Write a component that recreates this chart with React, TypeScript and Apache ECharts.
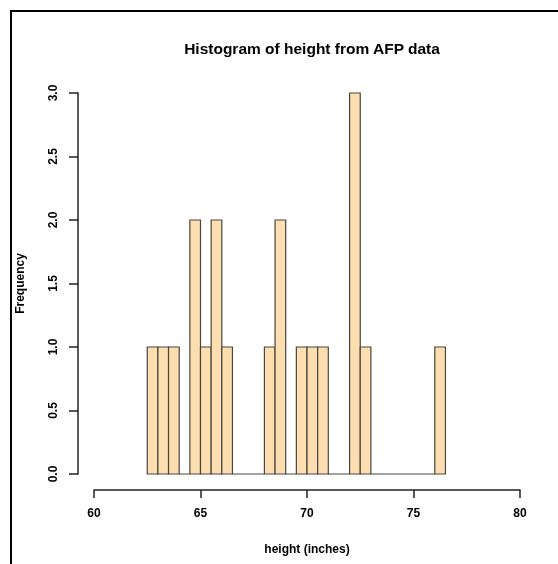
import React, { useEffect, useRef } from "react";
import * as echarts from "echarts";

// Histogram of heights (inches), 0.5-inch bins
const binStarts = [
  62.5, 63, 63.5, 64, 64.5, 65, 65.5, 66, 66.5, 67, 67.5, 68, 68.5, 69,
  69.5, 70, 70.5, 71, 71.5, 72, 72.5, 73, 73.5, 74, 74.5, 75, 75.5, 76,
];
const counts = [
  1, 1, 1, 0, 2, 1, 2, 1, 0, 0, 0, 1, 2, 0,
  1, 1, 1, 0, 0, 3, 1, 0, 0, 0, 0, 0, 0, 1,
];
const binWidth = 0.5;
const xTicks = [60, 65, 70, 75, 80];
const yTicks = [0, 0.5, 1, 1.5, 2, 2.5, 3];

const titleText = "Histogram of height from AFP data";
const xLabel = "height (inches)";
const yLabel = "Frequency";

const FONT = "'Liberation Sans', Arial, sans-serif";
const AXIS_COLOR = "#222";

export default function App() {
  const ref = useRef<HTMLDivElement>(null);

  useEffect(() => {
    if (!ref.current) return;
    const chart = echarts.init(ref.current, undefined, { renderer: "svg" });
    const data = binStarts.map((s, i) => [s, s + binWidth, counts[i]]);

    chart.setOption({
      animation: false,
      title: {
        text: titleText,
        left: 307,
        top: 35,
        textAlign: "center",
        textStyle: { fontSize: 15.5, fontWeight: "bold", color: "#000", fontFamily: FONT },
      },
      grid: { left: 94, right: 38, top: 93, bottom: 90 },
      xAxis: {
        type: "value",
        min: xTicks[0],
        max: xTicks[xTicks.length - 1],
        interval: 5,
        offset: 16,
        name: xLabel,
        nameLocation: "middle",
        nameGap: 53,
        nameMoveOverlap: false,
        nameTextStyle: { fontSize: 12, fontWeight: "bold", color: "#000", fontFamily: FONT },
        axisLine: { show: true, onZero: false, lineStyle: { color: AXIS_COLOR, width: 1.5 } },
        axisTick: { show: true, length: 8, inside: false, lineStyle: { color: AXIS_COLOR, width: 1.5 } },
        axisLabel: { margin: 17, fontSize: 12, fontWeight: "bold", color: "#000", fontFamily: FONT },
        splitLine: { show: false },
      },
      yAxis: {
        type: "value",
        min: yTicks[0],
        max: yTicks[yTicks.length - 1],
        interval: 0.5,
        offset: 16,
        name: yLabel,
        nameLocation: "middle",
        nameGap: 52,
        nameRotate: 90,
        nameMoveOverlap: false,
        nameTextStyle: { fontSize: 12, fontWeight: "bold", color: "#000", fontFamily: FONT },
        axisLine: { show: true, onZero: false, lineStyle: { color: AXIS_COLOR, width: 1.5 } },
        axisTick: { show: true, length: 9, inside: false, lineStyle: { color: AXIS_COLOR, width: 1.5 } },
        axisLabel: {
          rotate: 90,
          margin: 19,
          fontSize: 12,
          fontWeight: "bold",
          color: "#000",
          fontFamily: FONT,
          formatter: (v: number) => v.toFixed(1),
        },
        splitLine: { show: false },
      },
      series: [
        {
          type: "custom",
          data,
          encode: { x: [0, 1], y: 2 },
          renderItem: (_params: any, api: any) => {
            const x0 = api.value(0);
            const x1 = api.value(1);
            const c = api.value(2);
            const p0 = api.coord([x0, 0]);
            const p1 = api.coord([x1, c]);
            return {
              type: "rect",
              shape: {
                x: p0[0],
                y: p1[1],
                width: p1[0] - p0[0],
                height: p0[1] - p1[1],
              },
              style: { fill: "#FCDEB0", stroke: "#4a4540", lineWidth: 1.2 },
            };
          },
        },
      ],
    });

    return () => chart.dispose();
  }, []);

  return (
    <div style={{ position: "fixed", left: 0, top: 0, width: 558, height: 564, overflow: "hidden" }}>
      <div ref={ref} style={{ position: "absolute", left: 0, top: 0, width: 558, height: 564 }} />
      {/* device frame, open to the right and bottom */}
      <div
        style={{
          position: "absolute",
          left: 10,
          top: 10,
          width: 700,
          height: 700,
          border: "2px solid #000",
          pointerEvents: "none",
        }}
      />
    </div>
  );
}
